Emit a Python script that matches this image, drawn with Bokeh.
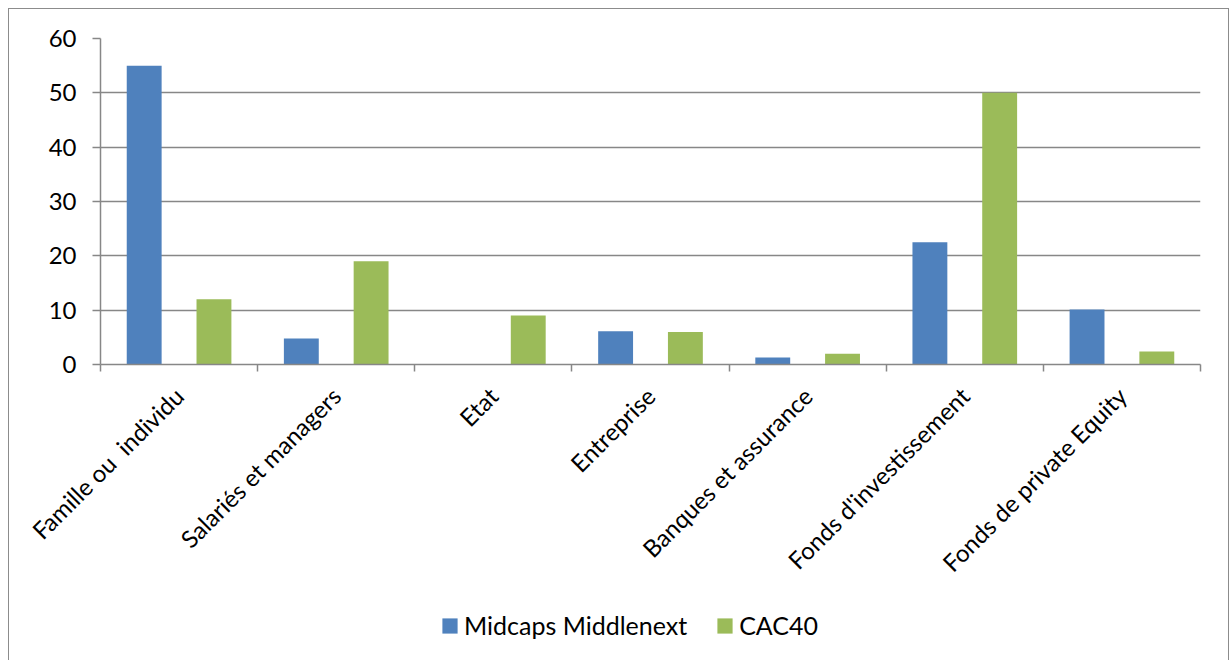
from bokeh.plotting import figure
from bokeh.layouts import column
from bokeh.models import (Range1d, LinearAxis, FixedTicker, Legend, LegendItem, ColumnDataSource)
from bokeh.transform import dodge
from bokeh.embed import file_html
from bokeh.resources import INLINE
import math

categories = ["Famille ou \u00a0individu", "Salariés et managers", "Etat", "Entreprise",
              "Banques et assurance", "Fonds d'investissement", "Fonds de private Equity"]
midcaps = [55.0, 4.8, 0.0, 6.1, 1.3, 22.5, 10.1]
cac40 = [12.0, 19.0, 9.0, 6.0, 2.0, 50.0, 2.4]
series_names = ["Midcaps Middlenext", "CAC40"]
y_ticks = [0, 10, 20, 30, 40, 50, 60]

BLUE = "#4F81BD"
GREEN = "#9BBB59"
GRAY = "#878787"
FONT = "Lato"
FS = "24px"

n = len(categories)
centers = [i + 0.5 for i in range(n)]
src = ColumnDataSource(data=dict(pos=centers, mid=midcaps, cac=cac40))

p = figure(width=1219, height=591, output_backend="svg", toolbar_location=None,
           x_range=Range1d(0, n), y_range=Range1d(0, 60),
           x_axis_location=None, y_axis_location=None,
           min_border_left=91, min_border_right=28, min_border_top=29,
           min_border_bottom=236, outline_line_color=None)

# y axis
yax = LinearAxis(ticker=FixedTicker(ticks=y_ticks), axis_line_color=GRAY, axis_line_width=1.5,
                 major_tick_line_color=GRAY, major_tick_line_width=1.5,
                 major_tick_out=8, major_tick_in=0, minor_tick_line_color=None,
                 major_label_text_font=FONT, major_label_text_font_size=FS,
                 major_label_text_color="black", major_label_standoff=16)
p.add_layout(yax, "left")

# boundary ticks axis
bax = LinearAxis(ticker=FixedTicker(ticks=list(range(n + 1))),
                 axis_line_color=GRAY, axis_line_width=1.5, major_tick_line_color=GRAY,
                 major_tick_line_width=1.5, major_tick_out=7, major_tick_in=0,
                 minor_tick_line_color=None,
                 major_label_overrides={i: "" for i in range(n + 1)},
                 major_label_text_font_size="1px", major_label_standoff=0)
p.add_layout(bax, "below")

# category label axis
cax = LinearAxis(ticker=FixedTicker(ticks=centers), axis_line_color=None,
                 major_tick_line_color=None, minor_tick_line_color=None,
                 major_label_overrides={c: lab for c, lab in zip(centers, categories)},
                 major_label_orientation=math.pi / 4,
                 major_label_text_font=FONT, major_label_text_font_size=FS,
                 major_label_text_color="black", major_label_standoff=14)
p.add_layout(cax, "below")

p.ygrid.ticker = FixedTicker(ticks=y_ticks)
p.ygrid.grid_line_color = GRAY
p.ygrid.grid_line_width = 1.5
p.xgrid.grid_line_color = None

p.vbar(x=dodge("pos", -0.222), top="mid", width=0.222, source=src,
       fill_color=BLUE, line_color=None)
p.vbar(x=dodge("pos", 0.222), top="cac", width=0.222, source=src,
       fill_color=GREEN, line_color=None)

# legend strip (frame aligned with the main plot's frame by the column layout)
leg = figure(width=1219, height=60, output_backend="svg", toolbar_location=None,
             x_range=Range1d(0, 1), y_range=Range1d(0, 1),
             x_axis_location=None, y_axis_location=None, outline_line_color=None,
             min_border_left=0, min_border_right=0, min_border_top=0, min_border_bottom=0)
leg.grid.visible = False
swatch = ColumnDataSource(data=dict(x=[-10.0], top=[0.0]))
s1 = leg.vbar(x="x", top="top", width=0.1, source=swatch, fill_color=BLUE, line_color=None)
s2 = leg.vbar(x="x", top="top", width=0.1, source=swatch, fill_color=GREEN, line_color=None)
legend = Legend(items=[LegendItem(label=series_names[0], renderers=[s1], index=0),
                       LegendItem(label=series_names[1], renderers=[s2], index=0)],
                orientation="horizontal", location=(340, 20),
                border_line_color=None, background_fill_alpha=0,
                label_text_font=FONT, label_text_font_size="25px",
                label_text_color="black",
                glyph_width=19, glyph_height=19, label_standoff=5, spacing=28,
                padding=0, margin=0)
leg.add_layout(legend, "center")

layout = column(p, leg, spacing=0,
                styles={"margin-left": "8px", "margin-top": "8px",
                        "border-top": "1.5px solid #8c8c8c",
                        "border-left": "1.5px solid #8c8c8c",
                        "border-right": "1.5px solid #8c8c8c"})

open("out.html", "w").write(file_html(layout, INLINE))
